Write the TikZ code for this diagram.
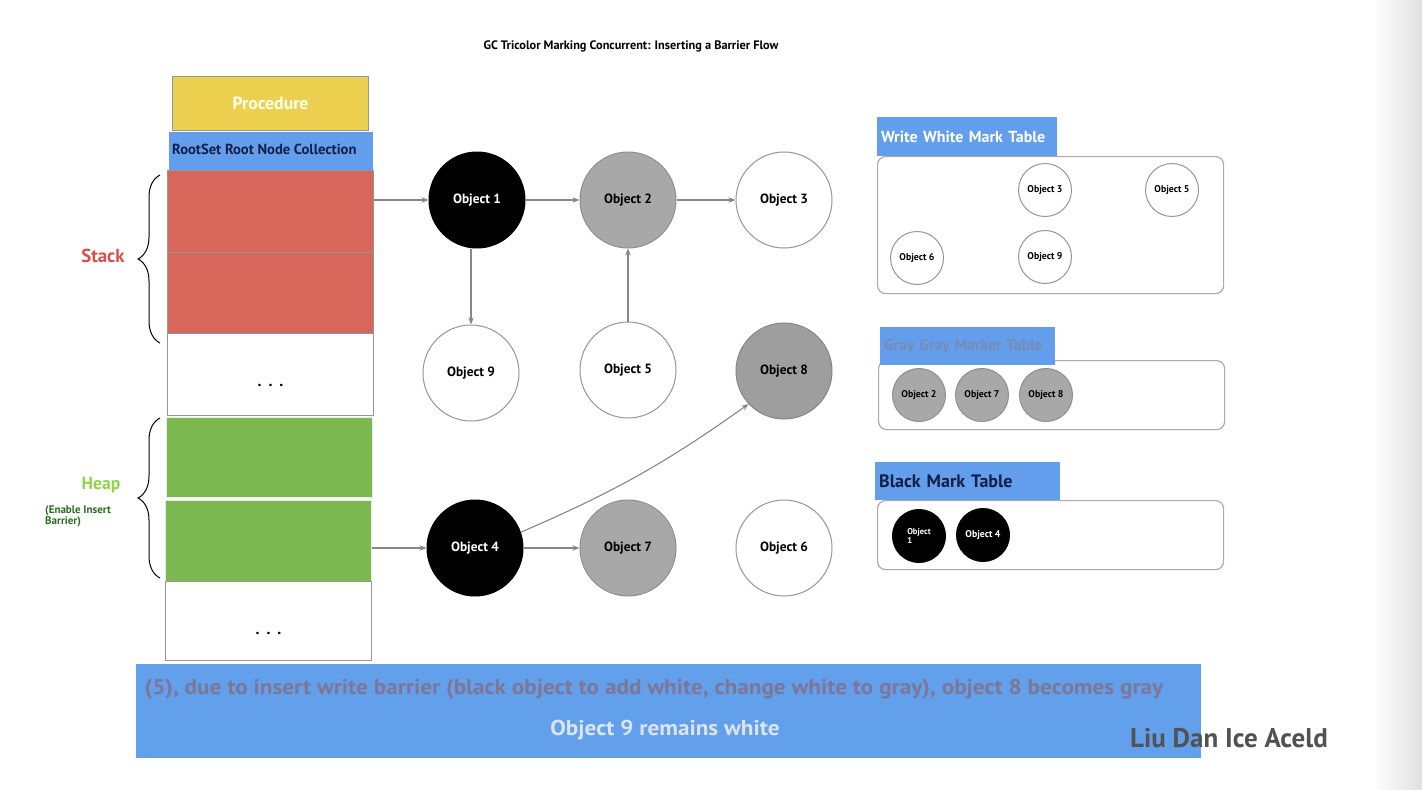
\documentclass[tikz,border=0pt]{standalone}
\usepackage{fontspec}
\setmainfont{PT Sans}
\newfontfamily\widefont[FakeStretch=1.08]{PT Sans}
\usetikzlibrary{arrows.meta,decorations.pathreplacing,calc}
\definecolor{hdrblue}{RGB}{98,158,236}
\definecolor{stackred}{RGB}{217,102,90}
\definecolor{stacklbl}{RGB}{214,82,72}
\definecolor{heapgreen}{RGB}{124,184,80}
\definecolor{heaplbl}{RGB}{140,214,72}
\definecolor{enablegreen}{RGB}{40,110,30}
\definecolor{procyellow}{RGB}{237,208,79}
\definecolor{objgray}{RGB}{168,168,168}
\definecolor{objgraydk}{RGB}{158,158,158}
\definecolor{linegray}{RGB}{150,150,150}
\definecolor{navy}{RGB}{20,30,70}
\definecolor{bannerblue}{RGB}{98,160,236}
\definecolor{bannertext}{RGB}{125,118,150}
\definecolor{bannerlight}{RGB}{220,228,240}
\definecolor{faded}{RGB}{120,140,178}
\begin{document}
\begin{tikzpicture}[x=1pt,y=-1pt,
  cell/.style={draw=linegray, line width=1pt, anchor=north west, minimum width=206pt, inner sep=0pt},
  dots/.style={font=\bfseries\fontsize{16}{18}\selectfont, inner sep=0pt},
  obj/.style={circle, draw=linegray, line width=1pt, minimum size=96pt, inner sep=0pt, font=\bfseries\fontsize{13.4}{15}\selectfont},
  wobj/.style={obj, fill=white},
  gobj/.style={obj, fill=objgray, draw=objgray!85!black},
  bobj/.style={obj, fill=black, draw=black, text=white},
  sobj/.style={circle, draw=linegray, line width=1pt, minimum size=53pt, inner sep=0pt, font=\bfseries\fontsize{9.8}{10}\selectfont},
  swobj/.style={sobj, fill=white},
  sgobj/.style={sobj, fill=objgray, draw=objgray!85!black},
  sbobj/.style={sobj, fill=black, draw=black, text=white},
  tablebox/.style={draw=linegray!80, line width=1.2pt, rounded corners=8pt, anchor=north west, inner sep=0pt},
  hdr/.style={fill=hdrblue, anchor=north west, inner xsep=4pt, inner ysep=0pt, align=left},
  conn/.style={draw=linegray!90!black, line width=1.1pt, -{Stealth[length=7pt,width=5.5pt]}},
  brc/.style={decorate, decoration={brace, amplitude=22pt}, line width=1pt}
]
\useasboundingbox (0,0) rectangle (1422,790);
\fill[white] (0,0) rectangle (1422,790);
\shade[left color=white, right color=black!12] (1372,0) rectangle (1422,790);

% title
\node[font=\bfseries\fontsize{12.3}{14}\selectfont] (title) at (631,46) {GC Tricolor Marking Concurrent: Inserting a Barrier Flow};

% left column
\node[cell, fill=procyellow, minimum width=196pt, minimum height=54pt, text=white!92!yellow, font=\bfseries\fontsize{17.7}{20}\selectfont] (proc) at (172,76) {Procedure};
\node[cell, draw=none, fill=hdrblue, minimum width=204pt, minimum height=38pt] (root) at (168,131) {};
\node[anchor=west, text=navy, font=\bfseries\fontsize{14.6}{16}\selectfont, inner sep=0pt] (roottxt) at (172,149) {RootSet Root Node Collection};
\node[cell, fill=stackred, minimum height=82pt] (red1) at (167,170) {};
\node[cell, fill=stackred, minimum height=81pt] (red2) at (167,252) {};
\node[cell, fill=white, minimum height=82pt] (dots1) at (167,333) {};
\node[dots] (dt1) at ($(dots1.center)+(0,11)$) {.\hspace{7pt}.\hspace{7pt}.};
\node[cell, fill=heapgreen, draw=white!85!gray, minimum height=80pt] (green1) at (166,417) {};
\node[cell, fill=heapgreen, draw=white!85!gray, minimum height=81pt] (green2) at (165,500) {};
\node[cell, fill=white, minimum height=79pt] (dots2) at (165,581) {};
\node[dots] (dt2) at ($(dots2.center)+(0,12)$) {.\hspace{7pt}.\hspace{7pt}.};

% braces and labels
\coordinate (sb) at (160,343);
\coordinate (st) at (160,175);
\coordinate (hb) at (160,578);
\coordinate (ht) at (160,418);
\draw[brc] (sb) -- (st);
\draw[brc] (hb) -- (ht);
\node[text=stacklbl, font=\bfseries\fontsize{18.8}{20}\selectfont] (stack) at (103,256) {Stack};
\node[text=heaplbl, font=\bfseries\fontsize{17.6}{20}\selectfont] (heap) at (101,485) {Heap};
\node[anchor=north west, align=left, inner sep=0pt, text=enablegreen, font=\bfseries\fontsize{11}{11}\selectfont] (enable) at (45,505) {(Enable Insert\\Barrier)};

% objects
\node[bobj] (o1) at (477,200) {Object 1};
\node[gobj] (o2) at (628,200) {Object 2};
\node[wobj] (o3) at (784,200) {Object 3};
\node[wobj] (o9) at (471,373) {Object 9};
\node[wobj] (o5) at (628,370) {Object 5};
\node[obj, fill=objgraydk, draw=objgraydk!85!black] (o8) at (784,371) {Object 8};
\node[bobj] (o4) at (475,548) {Object 4};
\node[gobj] (o7) at (628,548) {Object 7};
\node[wobj] (o6) at (784,548) {Object 6};

% connectors
\draw[conn] (red1.east |- o1) -- (o1);
\draw[conn] (o1) -- (o2);
\draw[conn] (o2) -- (o3);
\draw[conn] (o9.north |- o1.south) -- (o9.north);
\draw[conn] (o5) -- (o2);
\draw[conn] (green2.east |- o4) -- (o4);
\draw[conn] (o4) -- (o7);
\draw[conn] (o4.19) to[bend right=6] (o8.223);

% write white mark table
\node[tablebox, minimum width=346pt, minimum height=137pt] (t1) at (877,156) {};
\node[hdr, text width=172pt, minimum height=39pt, text=white, font=\bfseries\fontsize{16}{18}\selectfont] (h1) at (877,117) {Write White Mark Table};
\node[swobj] (w3) at (1045,190) {Object 3};
\node[swobj] (w5) at (1172,190) {Object 5};
\node[swobj] (w6) at (917,258) {Object 6};
\node[swobj] (w9) at (1045,257) {Object 9};

% gray table
\node[tablebox, minimum width=346pt, minimum height=69pt] (t2) at (878,360) {};
\node[hdr, text width=167pt, minimum height=38pt, text=faded, font=\bfseries\fontsize{15.6}{17}\selectfont] (h2) at (880,327) {Gray Gray Marker Table};
\node[sgobj] (g2) at (919,395) {Object 2};
\node[sgobj] (g7) at (982,395) {Object 7};
\node[sgobj] (g8) at (1046,395) {Object 8};

% black table
\node[tablebox, minimum width=346pt, minimum height=69pt] (t3) at (877,500) {};
\node[hdr, text width=177pt, minimum height=38pt, text=navy, font=\bfseries\fontsize{18}{20}\selectfont] (h3) at (875,462) {Black Mark Table};
\node[sbobj, align=left, font=\bfseries\fontsize{8.5}{8.5}\selectfont] (b1) at (919,536) {Object\\1};
\node[sbobj] (b4) at (983,535) {Object 4};

% banner
\node[anchor=north west, fill=bannerblue, minimum width=1065pt, minimum height=94pt, inner sep=0pt] (banner) at (136,664) {};
\node[text=bannertext, font=\widefont\bfseries\fontsize{21.5}{24}\selectfont] (line1) at (654,689) {(5), due to insert write barrier (black object to add white, change white to gray), object 8 becomes gray};
\node[text=bannerlight, font=\widefont\bfseries\fontsize{21.5}{24}\selectfont] (line2) at (665,730) {Object 9 remains white};

% watermark
\node[text=black!68, font=\bfseries\fontsize{27}{30}\selectfont] (wm) at (1229,738) {Liu Dan Ice Aceld};
\end{tikzpicture}
\end{document}
